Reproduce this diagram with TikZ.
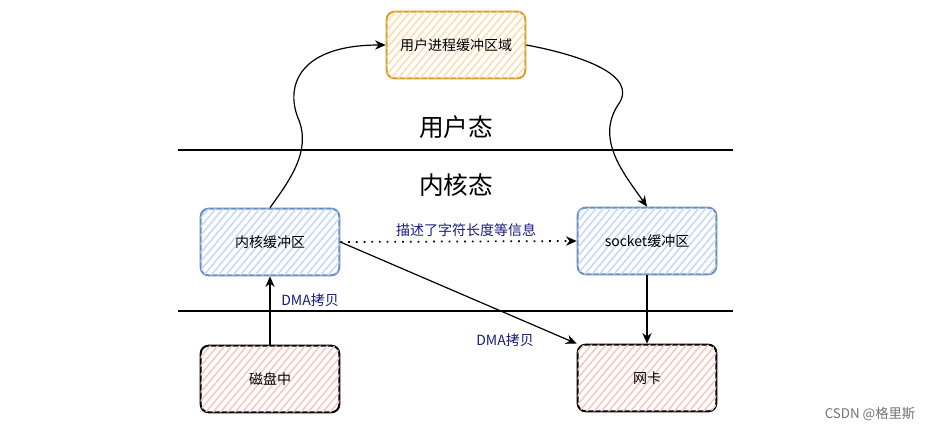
\documentclass[tikz,border=0pt]{standalone}
\usepackage{fontspec}
\newfontfamily\cjk{Noto Sans CJK SC}
\usetikzlibrary{patterns.meta,arrows.meta}

\definecolor{userline}{RGB}{215,160,40}
\definecolor{userfill}{RGB}{253,222,180}
\definecolor{kernline}{RGB}{108,142,191}
\definecolor{kernfill}{RGB}{198,218,248}
\definecolor{devfill}{RGB}{245,200,196}
\definecolor{notecol}{RGB}{25,25,125}

\tikzset{
  buf/.style={draw, line width=1.5pt, rounded corners=6pt, minimum width=104pt, minimum height=50pt,
    font=\cjk\fontsize{10.5}{12}\selectfont, fill=white, inner sep=0pt},
  userbuf/.style={buf, draw=userline, postaction={pattern={Lines[angle=50,distance=4.2pt,line width=1.2pt]}, pattern color=userfill}},
  kernbuf/.style={buf, draw=kernline, postaction={pattern={Lines[angle=50,distance=4.2pt,line width=1.2pt]}, pattern color=kernfill}},
  devbuf/.style={buf, draw=black, postaction={pattern={Lines[angle=50,distance=4.2pt,line width=1.2pt]}, pattern color=devfill}},
  note/.style={font=\cjk\fontsize{10.5}{12}\selectfont, text=notecol, inner sep=0.75pt},
  zone/.style={font=\cjk\fontsize{18.5}{20}\selectfont, inner sep=0.75pt},
  flow/.style={-{Stealth[length=8pt,width=7pt]}, line width=0.9pt},
}

\begin{document}
\begin{tikzpicture}[x=0.75pt,y=0.75pt,yscale=-1,xscale=1]
\useasboundingbox (0,0) rectangle (935,431);

%Shape: Rounded rect [id:userbuf]
\node[userbuf] (ubuf) at (456,45) {用户进程缓冲区域};
%Shape: Rounded rect [id:kernbuf]
\node[kernbuf] (kbuf) at (270,242) {内核缓冲区};
%Shape: Rounded rect [id:sockbuf]
\node[kernbuf] (sbuf) at (647,241) {socket缓冲区};
%Shape: Rounded rect [id:disk]
\node[devbuf] (disk) at (270,379) {磁盘中};
%Shape: Rounded rect [id:nic]
\node[devbuf] (nic) at (647,378) {网卡};

%Straight Lines [id:userline]
\coordinate (ua) at (178,150);
\coordinate (ub) at (733,150);
\draw [line width=1pt] (ua) -- (ub);
%Straight Lines [id:kernline]
\coordinate (ka) at (178,311);
\coordinate (kb) at (733,311);
\draw [line width=1pt] (ka) -- (kb);

% Text Node
\node[zone] (user) at (456,127) {用户态};
% Text Node
\node[zone] (kern) at (456,185) {内核态};

%Curve Lines [id:up]
\draw [flow] (kbuf.north) .. controls (290,180) and (312,150) .. (298,118) .. controls (285,85) and (300,45) .. (ubuf.west);
%Curve Lines [id:down]
\draw [flow] (ubuf.east) .. controls (580,55) and (640,75) .. (618,105) .. controls (595,140) and (625,175) .. (sbuf.north);
%Straight Lines [id:describe]
\draw [flow, line width=1.3pt, dash pattern={on 1.3pt off 4.5pt}] (kbuf.east) -- (sbuf.west);
%Straight Lines [id:dma2]
\draw [flow] (kbuf.east) -- (nic.north west);
%Straight Lines [id:dma1]
\draw [flow] (disk.north) -- (kbuf.south);
%Straight Lines [id:send]
\draw [flow] (sbuf.south) -- (nic.north);

% Text Node
\node[note] (desc) at (466,230) {描述了字符长度等信息};
% Text Node
\node[note, anchor=west] (dmaup) at (280,300) {DMA拷贝};
% Text Node
\node[note] (dmanic) at (505,340) {DMA拷贝};
% Text Node
\node[font=\cjk\fontsize{10}{12}\selectfont, text=black!55, anchor=east] (mark) at (920,414) {CSDN @格里斯};

\end{tikzpicture}
\end{document}
